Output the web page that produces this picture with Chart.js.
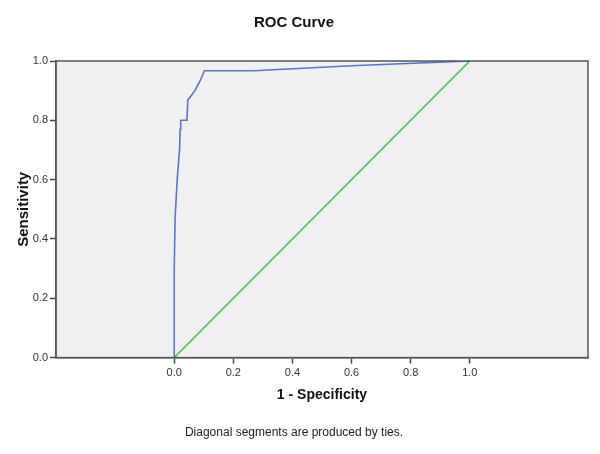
<!DOCTYPE html>
<html>
<head>
<meta charset="utf-8">
<script src="https://cdn.jsdelivr.net/npm/chart.js@4/dist/chart.umd.min.js"></script>
<style>
  html, body { margin: 0; padding: 0; background: #fff; }
  #wrap { width: 600px; height: 454px; }
</style>
</head>
<body>
<div id="wrap"><canvas id="rocChart" width="600" height="454"></canvas></div>
<script>
// 1 - specificity (x) and sensitivity (y)
const rocFpr = [0, 0, 0.003, 0.01, 0.018, 0.02, 0.022, 0.043, 0.046, 0.07, 0.089, 0.102, 0.27, 0.6, 1.0];
const rocTpr = [0, 0.30, 0.47, 0.60, 0.70, 0.77, 0.80, 0.80, 0.868, 0.90, 0.936, 0.967, 0.967, 0.984, 1.0];

// reference diagonal
const refX = [0, 1];
const refY = [0, 1];

const xTicks = [0, 0.2, 0.4, 0.6, 0.8, 1.0];
const yTicks = [0, 0.2, 0.4, 0.6, 0.8, 1.0];

const plotFrame = {
    id: 'plotFrame',
    beforeDraw(chart) {
        const { ctx, chartArea: a } = chart;
        ctx.save();
        ctx.fillStyle = '#f0f0f0';
        ctx.fillRect(a.left, a.top, a.right - a.left, a.bottom - a.top);
        ctx.restore();
    },
    afterDraw(chart) {
        const { ctx, chartArea: a } = chart;
        ctx.save();
        ctx.strokeStyle = '#555';
        ctx.lineWidth = 1.5;
        ctx.strokeRect(a.left, a.top, a.right - a.left, a.bottom - a.top);
        ctx.restore();
    }
};

const fam = 'Liberation Sans, Arial, sans-serif';
const tickFont = { family: fam, size: 11 };

new Chart(document.getElementById('rocChart'), {
    type: 'scatter',
    data: {
        datasets: [
            {
                label: 'ROC',
                data: rocFpr.map((x, i) => ({ x: x, y: rocTpr[i] })),
                showLine: true,
                borderColor: '#5b74cc',
                borderWidth: 1.6,
                pointRadius: 0,
                tension: 0
            },
            {
                label: 'Reference',
                data: refX.map((x, i) => ({ x: x, y: refY[i] })),
                showLine: true,
                borderColor: '#4fc25a',
                borderWidth: 1.6,
                pointRadius: 0
            }
        ]
    },
    options: {
        responsive: false,
        animation: false,
        layout: { padding: { left: 0, right: 12, top: 0, bottom: 0 } },
        plugins: {
            legend: { display: false },
            tooltip: { enabled: false },
            title: {
                display: true,
                text: 'ROC Curve',
                color: '#111',
                font: { family: fam, size: 15, weight: 'bold' },
                padding: { top: 14, bottom: 29 }
            },
            subtitle: {
                display: true,
                position: 'bottom',
                text: 'Diagonal segments are produced by ties.',
                color: '#222',
                font: { family: fam, size: 12 },
                padding: { top: 6, bottom: 14 }
            }
        },
        scales: {
            x: {
                type: 'linear',
                min: -0.4,
                max: 1.4,
                afterBuildTicks: s => { s.ticks = xTicks.map(v => ({ value: v })); },
                afterFit: s => { s.height = 62; },
                ticks: {
                    color: '#333',
                    font: tickFont,
                    padding: 3,
                    callback: v => v.toFixed(1)
                },
                grid: { drawOnChartArea: false, tickLength: 6, tickColor: '#444', tickWidth: 1.5 },
                border: { color: '#555', width: 1.5 },
                title: {
                    display: true,
                    text: '1 - Specificity',
                    color: '#111',
                    font: { family: fam, size: 14, weight: 'bold' },
                    padding: { top: 0, bottom: 16 }
                }
            },
            y: {
                type: 'linear',
                min: 0,
                max: 1,
                afterBuildTicks: s => { s.ticks = yTicks.map(v => ({ value: v })); },
                afterFit: s => { s.width = 56; },
                ticks: {
                    color: '#333',
                    font: tickFont,
                    padding: 2,
                    callback: v => v.toFixed(1)
                },
                grid: { drawOnChartArea: false, tickLength: 6, tickColor: '#444', tickWidth: 1.5 },
                border: { color: '#555', width: 1.5 },
                title: {
                    display: true,
                    text: 'Sensitivity',
                    color: '#111',
                    font: { family: fam, size: 15, weight: 'bold' },
                    padding: { top: 15, bottom: 0 }
                }
            }
        }
    },
    plugins: [plotFrame]
});
</script>
</body>
</html>
